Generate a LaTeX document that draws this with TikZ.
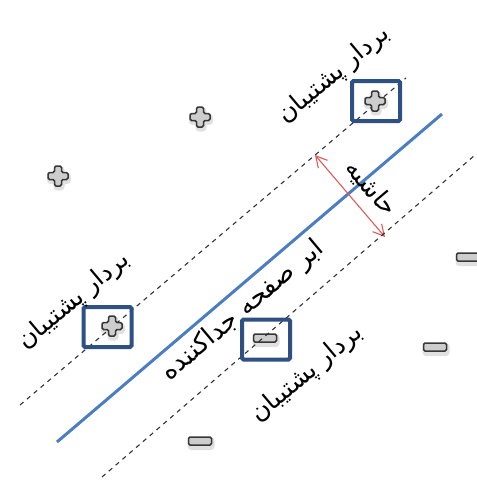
\documentclass[tikz,border=0pt]{standalone}
\usepackage{fontspec}
\newfontfamily\farsi[Script=Arabic]{DejaVu Sans}
\TeXXeTstate=1
\usetikzlibrary{arrows.meta}
\definecolor{boxblue}{RGB}{46,80,130}
\definecolor{lineblue}{RGB}{74,126,192}
\definecolor{marginred}{RGB}{224,90,90}
\definecolor{markfill}{RGB}{205,205,205}
\definecolor{markedge}{RGB}{55,55,55}
\tikzset{
  plusmark/.pic={
    \begin{scope}[shift={(1,2.5)}]
      \draw[black, opacity=0.12, line width=4pt, rounded corners=2pt]
        (-3.5,-10)--(3.5,-10)--(3.5,-3.5)--(10,-3.5)--(10,3.5)--(3.5,3.5)--(3.5,10)--(-3.5,10)--(-3.5,3.5)--(-10,3.5)--(-10,-3.5)--(-3.5,-3.5)--cycle;
    \end{scope}
    \filldraw[fill=markfill, draw=markedge, line width=1.5pt, rounded corners=1.5pt]
      (-3.5,-10)--(3.5,-10)--(3.5,-3.5)--(10,-3.5)--(10,3.5)--(3.5,3.5)--(3.5,10)--(-3.5,10)--(-3.5,3.5)--(-10,3.5)--(-10,-3.5)--(-3.5,-3.5)--cycle;
  },
  minusmark/.pic={
    \draw[black, opacity=0.12, line width=4pt, rounded corners=2pt]
      (-10.5,-2) rectangle (12.5,7);
    \filldraw[fill=markfill, draw=markedge, line width=1.5pt, rounded corners=1.5pt]
      (-11.5,-4) rectangle (11.5,4);
  }
}
\begin{document}
\begin{tikzpicture}[x=1pt,y=-1pt,
  svbox/.style={draw=boxblue, line width=4pt, rounded corners=1.5pt,
    minimum width=48pt, minimum height=40pt, inner sep=0pt},
  guide/.style={draw=black!80, line width=1.1pt, dash pattern=on 4.5pt off 4.5pt},
  hyper/.style={draw=lineblue, line width=3pt},
  lbl/.style={font=\farsi\fontsize{25}{30}\selectfont, inner sep=0pt},
  biglbl/.style={font=\farsi\fontsize{26}{32}\selectfont, inner sep=0pt},
  marginarrow/.style={draw=marginred, line width=1.1pt,
    {Straight Barb[length=11pt,width=12pt]}-{Straight Barb[length=11pt,width=12pt]}}
]
\useasboundingbox (0,0) rectangle (477,480);

% guide lines and separating line
\coordinate (u1) at (20,405);  \coordinate (u2) at (406,78);
\coordinate (h1) at (57,442);  \coordinate (h2) at (442,114);
\coordinate (l1) at (102,477); \coordinate (l2) at (475,155);
\draw[guide] (u1) -- (u2);
\draw[hyper] (h1) -- (h2);

% margin arrow
\coordinate (m1) at (315,155); \coordinate (m2) at (385,237);
\draw[marginarrow] (m1) -- (m2);

% class samples
\pic at (200,117) {plusmark};
\pic at (58,176) {plusmark};
\pic at (375,101) {plusmark};
\pic at (112,326) {plusmark};
\pic at (265,338) {minusmark};
\pic at (200,441) {minusmark};
\pic at (468,257) {minusmark};
\pic at (435,347) {minusmark};
\draw[guide] (l1) -- (l2);

% support vector frames
\node[svbox] (sv1) at (376,101) {};
\node[svbox] (sv2) at (107.5,327) {};
\node[svbox] (sv3) at (266,339.5) {};

% labels
\node[lbl, rotate=40] (t1) at (334,75) {\beginR بردار پشتیبان\endR};
\node[lbl, rotate=40] (t2) at (74,301) {\beginR بردار پشتیبان\endR};
\node[lbl, rotate=40] (t3) at (307,374) {\beginR بردار پشتیبان\endR};
\node[biglbl, rotate=40] (t4) at (243,311) {\beginR ابر صفحه جداکننده\endR};
\node[lbl, rotate=-50] (t5) at (371,188) {\beginR حاشیه\endR};
\end{tikzpicture}
\end{document}
